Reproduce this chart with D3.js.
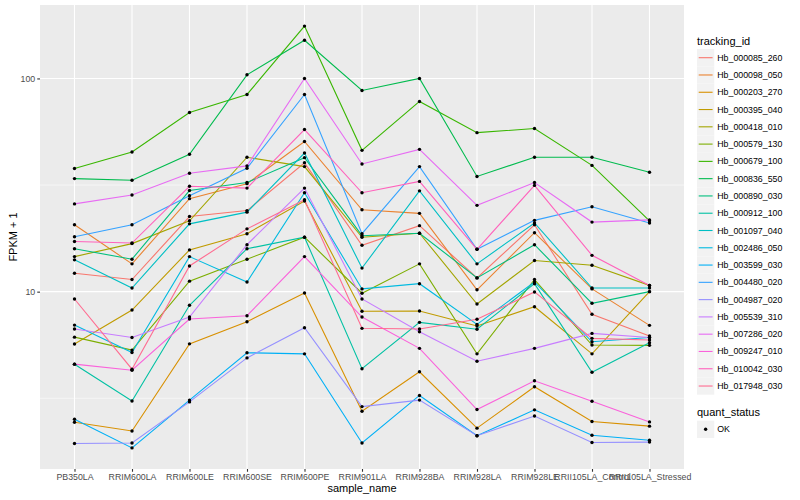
<!DOCTYPE html>
<html>
<head>
<meta charset="utf-8"/>
<script src="https://d3js.org/d3.v7.min.js"></script>
<style>
  body { margin: 0; background: #fff; }
  text { font-family: "Liberation Sans", Arial, sans-serif; }
</style>
</head>
<body>
<div id="chart"></div>
<script>
// samples on the x axis
var samples = ["PB350LA", "RRIM600LA", "RRIM600LE", "RRIM600SE", "RRIM600PE", "RRIM901LA",
               "RRIM928BA", "RRIM928LA", "RRIM928LE", "RRII105LA_Control", "RRII105LA_Stressed"];

var trackingIds = ["Hb_000085_260", "Hb_000098_050", "Hb_000203_270", "Hb_000395_040", "Hb_000418_010",
                   "Hb_000579_130", "Hb_000679_100", "Hb_000836_550", "Hb_000890_030", "Hb_000912_100",
                   "Hb_001097_040", "Hb_002486_050", "Hb_003599_030", "Hb_004480_020", "Hb_004987_020",
                   "Hb_005539_310", "Hb_007286_020", "Hb_009247_010", "Hb_010042_030", "Hb_017948_030"];

// ggplot default hue palette, 20 levels
var colors = ["#F8766D", "#EA8331", "#D89000", "#C09B00", "#A3A500", "#7CAE00", "#39B600", "#00BB4E",
              "#00BF7D", "#00C1A3", "#00BFC4", "#00BAE0", "#00B0F6", "#35A2FF", "#9590FF", "#C77CFF",
              "#E76BF3", "#FA62DB", "#FF62BC", "#FF6C91"];

// FPKM + 1, one value per sample
var hb000085 = [12.2, 11.4, 22.5, 24.0, 40.2, 16.5, 20.4, 11.6, 20.6, 7.83, 6.19];
var hb000098 = [20.6, 13.5, 27.3, 32.1, 50.6, 24.2, 23.3, 10.2, 18.9, 10.3, 6.95];
var hb000203 = [2.44, 2.22, 5.69, 7.23, 9.86, 2.75, 4.21, 2.29, 3.58, 2.46, 2.34];
var hb000395 = [5.68, 8.20, 15.7, 18.7, 26.6, 8.09, 8.12, 6.90, 8.50, 5.11, 10.0];
var hb000418 = [14.6, 16.8, 21.5, 42.7, 38.6, 18.0, 18.8, 8.75, 14.0, 13.3, 10.7];
var hb000579 = [6.12, 5.32, 11.2, 14.2, 18.0, 9.83, 13.5, 5.11, 11.4, 5.62, 5.60];
var hb000679 = [37.8, 45.2, 69.2, 84.1, 176, 46.0, 78.0, 55.7, 58.2, 39.1, 21.5];
var hb000836 = [33.9, 33.3, 44.1, 104, 151, 87.8, 100, 34.7, 42.7, 42.7, 36.3];
var hb000890 = [15.9, 14.2, 29.8, 32.5, 42.5, 18.3, 18.8, 11.6, 16.6, 8.82, 10.0];
var hb000912 = [4.57, 3.07, 8.63, 15.9, 18.0, 4.35, 7.18, 6.66, 10.9, 4.19, 5.76];
var hb001097 = [14.1, 10.4, 20.8, 23.6, 44.7, 12.9, 29.7, 13.5, 21.0, 10.4, 10.4];
var hb002486 = [6.97, 5.18, 14.6, 11.1, 29.1, 10.3, 10.9, 7.02, 11.1, 5.82, 6.10];
var hb003599 = [2.52, 1.85, 3.10, 5.17, 5.11, 1.95, 3.26, 2.11, 2.79, 2.12, 2.01];
var hb004480 = [18.1, 20.6, 28.2, 37.9, 84.1, 18.7, 38.6, 15.8, 21.6, 25.0, 21.0];
var hb004987 = [1.94, 1.95, 3.04, 4.89, 6.77, 2.89, 3.10, 2.11, 2.61, 1.96, 1.97];
var hb005539 = [6.68, 6.10, 7.60, 16.6, 30.6, 9.24, 6.49, 4.72, 5.42, 6.37, 6.10];
var hb007286 = [25.8, 28.4, 35.9, 38.9, 100, 39.7, 46.5, 25.4, 32.5, 21.2, 21.7];
var hb009247 = [4.57, 4.28, 7.44, 7.71, 14.6, 7.60, 5.42, 2.80, 3.82, 3.06, 2.45];
var hb010042 = [17.2, 16.9, 31.2, 30.6, 57.6, 29.1, 32.9, 15.8, 31.5, 14.8, 10.7];
var hb017948 = [9.24, 4.33, 13.2, 19.7, 27.0, 6.73, 6.68, 7.42, 9.97, 6.04, 5.93];

var series = [hb000085, hb000098, hb000203, hb000395, hb000418, hb000579, hb000679, hb000836,
              hb000890, hb000912, hb001097, hb002486, hb003599, hb004480, hb004987, hb005539,
              hb007286, hb009247, hb010042, hb017948];

var yTicks = [10, 100];
var yMinor = [Math.sqrt(10), Math.sqrt(1000)];

//Chart dimensions and margins
var margin = {top: 5, right: 116, bottom: 31, left: 40},
    width = 800 - margin.left - margin.right,
    height = 500 - margin.top - margin.bottom;

var svg = d3.select("#chart")
  .append("svg")
    .attr("width", 800)
    .attr("height", 500);

var g = svg.append("g")
    .attr("transform", "translate(" + margin.left + "," + margin.top + ")");

// panel background
g.append("rect")
  .attr("width", width)
  .attr("height", height)
  .attr("fill", "#EBEBEB");

// x: discrete, ggplot adds 0.6 of a step on each side
var x = d3.scalePoint()
  .domain(samples)
  .range([0, width])
  .padding(0.6);

// y: log10 with 5% expansion in log space
var allVals = [].concat.apply([], series);
var lo = Math.log10(d3.min(allVals)), hi = Math.log10(d3.max(allVals));
var pad = (hi - lo) * 0.05;
var y = d3.scaleLog()
  .domain([Math.pow(10, lo - pad), Math.pow(10, hi + pad)])
  .range([height, 0]);

// grid lines
g.selectAll(".minor")
  .data(yMinor)
  .enter().append("line")
    .attr("x1", 0).attr("x2", width)
    .attr("y1", function(d) { return y(d); })
    .attr("y2", function(d) { return y(d); })
    .attr("stroke", "#FFFFFF")
    .attr("stroke-width", 0.55);

g.selectAll(".major")
  .data(yTicks)
  .enter().append("line")
    .attr("x1", 0).attr("x2", width)
    .attr("y1", function(d) { return y(d); })
    .attr("y2", function(d) { return y(d); })
    .attr("stroke", "#FFFFFF")
    .attr("stroke-width", 1.1);

g.selectAll(".vgrid")
  .data(samples)
  .enter().append("line")
    .attr("x1", function(d) { return x(d); })
    .attr("x2", function(d) { return x(d); })
    .attr("y1", 0).attr("y2", height)
    .attr("stroke", "#FFFFFF")
    .attr("stroke-width", 1.1);

// lines, one per tracking id
var line = d3.line()
  .x(function(d, i) { return x(samples[i]); })
  .y(function(d) { return y(d); });

g.selectAll(".series")
  .data(series)
  .enter().append("path")
    .attr("d", line)
    .attr("fill", "none")
    .attr("stroke", function(d, i) { return colors[i]; })
    .attr("stroke-width", 1.1);

// points (quant_status = OK)
series.forEach(function(vals) {
  g.selectAll(null)
    .data(vals)
    .enter().append("circle")
      .attr("cx", function(d, i) { return x(samples[i]); })
      .attr("cy", function(d) { return y(d); })
      .attr("r", 1.7)
      .attr("fill", "#000");
});

// axes
var xAxis = g.append("g")
  .attr("transform", "translate(0," + height + ")")
  .call(d3.axisBottom(x).tickSize(2.75).tickPadding(2));
var yAxis = g.append("g")
  .call(d3.axisLeft(y).tickValues(yTicks).tickFormat(d3.format("d")).tickSize(2.75).tickPadding(2));

[xAxis, yAxis].forEach(function(a) {
  a.select(".domain").remove();
  a.selectAll(".tick line").attr("stroke", "#333333").attr("stroke-width", 1.1);
  a.selectAll(".tick text")
    .attr("fill", "#4D4D4D")
    .style("font-size", "8.8px")
    .style("font-family", "'Liberation Sans', Arial, sans-serif");
});

// axis titles
svg.append("text")
  .attr("x", margin.left + width / 2)
  .attr("y", 492)
  .attr("text-anchor", "middle")
  .style("font-size", "11px")
  .text("sample_name");

svg.append("text")
  .attr("transform", "translate(17," + (margin.top + height / 2) + ") rotate(-90)")
  .attr("text-anchor", "middle")
  .style("font-size", "11px")
  .text("FPKM + 1");

// legend: tracking_id
var lx = 697, ly0 = 57.7, step = 17.28;
svg.append("text")
  .attr("x", lx).attr("y", 44.5)
  .style("font-size", "11px")
  .text("tracking_id");

var leg = svg.selectAll(".leg")
  .data(trackingIds)
  .enter().append("g")
    .attr("transform", function(d, i) { return "translate(" + lx + "," + (ly0 + i * step) + ")"; });

leg.append("rect")
  .attr("x", 0).attr("y", -step / 2)
  .attr("width", step).attr("height", step)
  .attr("fill", "#F2F2F2");
leg.append("line")
  .attr("x1", 1.7).attr("x2", step - 1.7)
  .attr("stroke", function(d, i) { return colors[i]; })
  .attr("stroke-width", 1.1);
leg.append("text")
  .attr("x", step + 3)
  .attr("y", 3)
  .style("font-size", "8.8px")
  .text(function(d) { return d; });

// legend: quant_status
svg.append("text")
  .attr("x", lx).attr("y", 416)
  .style("font-size", "11px")
  .text("quant_status");
svg.append("rect")
  .attr("x", lx).attr("y", 429.3 - step / 2)
  .attr("width", step).attr("height", step)
  .attr("fill", "#F2F2F2");
svg.append("circle")
  .attr("cx", lx + step / 2).attr("cy", 429.3)
  .attr("r", 1.7)
  .attr("fill", "#000");
svg.append("text")
  .attr("x", lx + step + 3).attr("y", 432.3)
  .style("font-size", "8.8px")
  .text("OK");
</script>
</body>
</html>
